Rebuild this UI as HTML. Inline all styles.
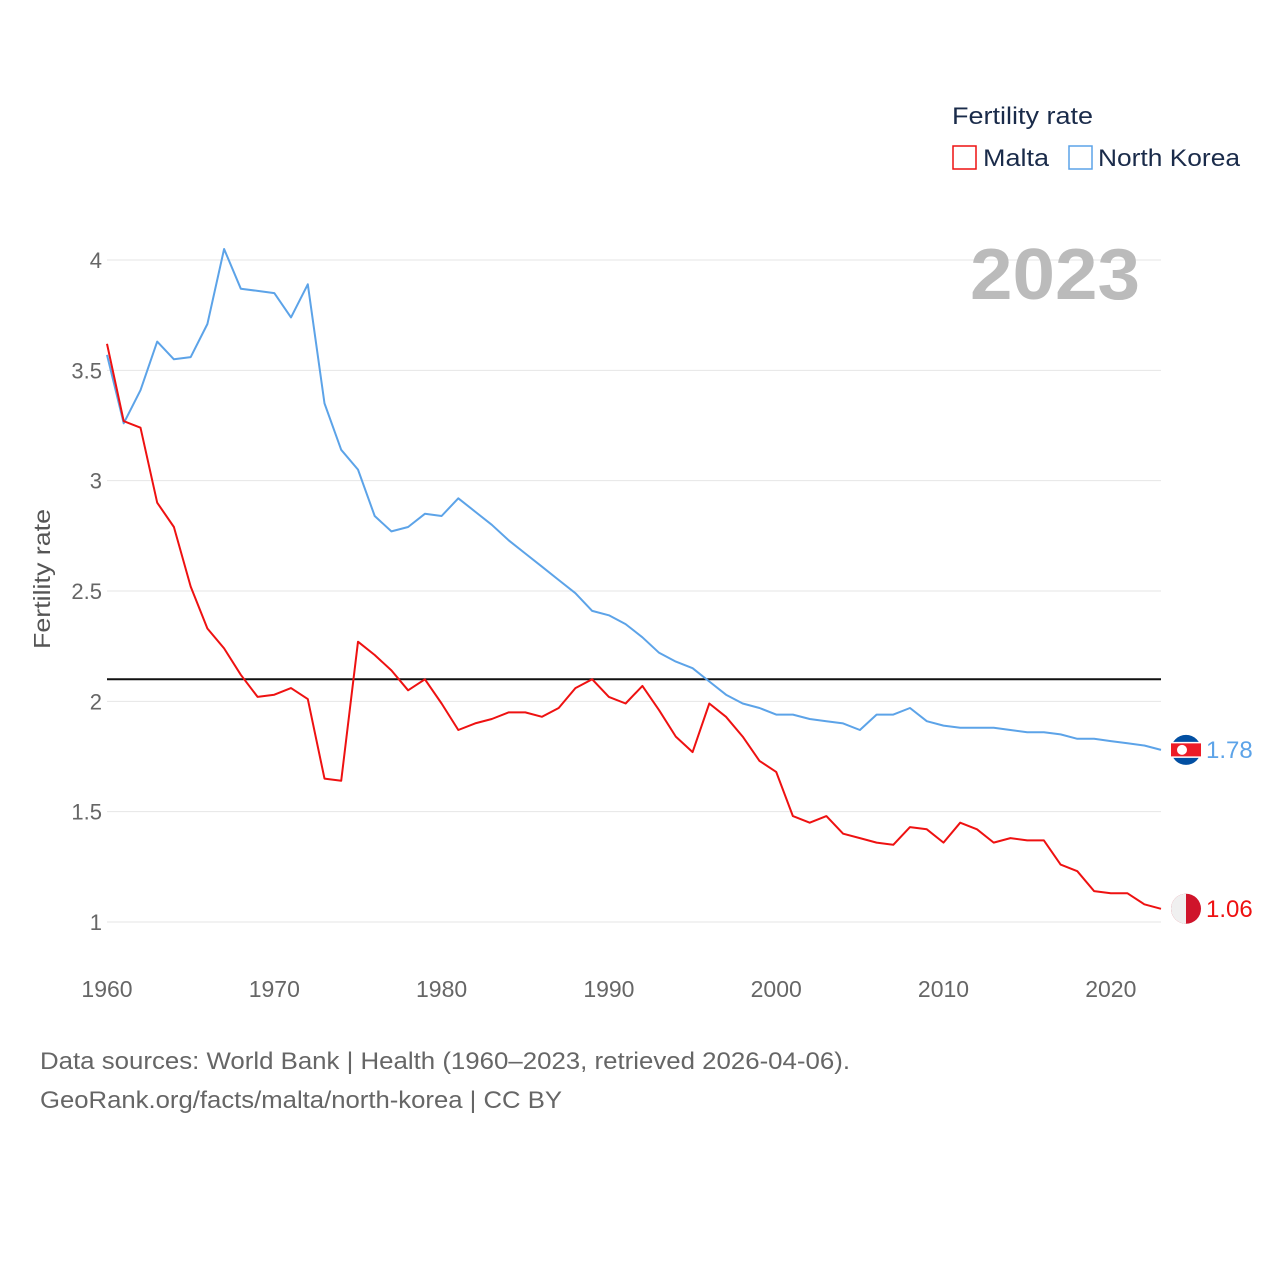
<!DOCTYPE html>
<html><head><meta charset="utf-8">
<style>
body{margin:0;background:#fff;font-family:"Liberation Sans",sans-serif;}
svg text{font-family:"Liberation Sans",sans-serif;}
</style></head>
<body>
<svg id="chart" width="1280" height="1280" viewBox="0 0 1280 1280" xmlns="http://www.w3.org/2000/svg">
<rect width="1280" height="1280" fill="#fff"/>
<g id="grid"></g>
<g id="yticks"></g>
<g id="xticks"></g>
<text transform="translate(50,579) rotate(-90)" text-anchor="middle" font-size="23" fill="#555" textLength="140" lengthAdjust="spacingAndGlyphs">Fertility rate</text>
<text x="1140" y="299" text-anchor="end" font-size="72" font-weight="bold" fill="#bbb" textLength="170" lengthAdjust="spacingAndGlyphs">2023</text>
<g>
<text x="952" y="124" font-size="24" fill="#1a2b4a" textLength="141" lengthAdjust="spacingAndGlyphs">Fertility rate</text>
<rect x="953" y="146" width="23" height="23" fill="none" stroke="#ee1111" stroke-width="1.5"/>
<text x="983" y="166" font-size="24" fill="#1a2b4a" textLength="66" lengthAdjust="spacingAndGlyphs">Malta</text>
<rect x="1069" y="146" width="23" height="23" fill="none" stroke="#5ca3e8" stroke-width="1.5"/>
<text x="1098" y="166" font-size="24" fill="#1a2b4a" textLength="142" lengthAdjust="spacingAndGlyphs">North Korea</text>
</g>
<g id="series"></g>
<text x="40" y="1069" font-size="24" fill="#666" textLength="810" lengthAdjust="spacingAndGlyphs">Data sources: World Bank | Health (1960–2023, retrieved 2026-04-06).</text>
<text x="40" y="1108" font-size="24" fill="#666" textLength="522" lengthAdjust="spacingAndGlyphs">GeoRank.org/facts/malta/north-korea | CC BY</text>
</svg>
<script>
const years = [];
for (let y = 1960; y <= 2023; y++) years.push(y);
const maltaValues = [3.62,3.27,3.24,2.90,2.79,2.52,2.33,2.24,2.12,2.02,2.03,2.06,2.01,1.65,1.64,2.27,2.21,2.14,2.05,2.10,1.99,1.87,1.90,1.92,1.95,1.95,1.93,1.97,2.06,2.10,2.02,1.99,2.07,1.96,1.84,1.77,1.99,1.93,1.84,1.73,1.68,1.48,1.45,1.48,1.40,1.38,1.36,1.35,1.43,1.42,1.36,1.45,1.42,1.36,1.38,1.37,1.37,1.26,1.23,1.14,1.13,1.13,1.08,1.06];
const nkValues = [3.57,3.26,3.41,3.63,3.55,3.56,3.71,4.05,3.87,3.86,3.85,3.74,3.89,3.35,3.14,3.05,2.84,2.77,2.79,2.85,2.84,2.92,2.86,2.80,2.73,2.67,2.61,2.55,2.49,2.41,2.39,2.35,2.29,2.22,2.18,2.15,2.09,2.03,1.99,1.97,1.94,1.94,1.92,1.91,1.90,1.87,1.94,1.94,1.97,1.91,1.89,1.88,1.88,1.88,1.87,1.86,1.86,1.85,1.83,1.83,1.82,1.81,1.80,1.78];
const yTickValues = [1,1.5,2,2.5,3,3.5,4];
const xTickValues = [1960,1970,1980,1990,2000,2010,2020];
const referenceValue = 2.1;

const NS = "http://www.w3.org/2000/svg";
const X0 = 107, X1 = 1161;
const xs = yr => X0 + (yr - 1960) * (X1 - X0) / 63;
const ys = v => 922 - (v - 1) * 220.67;
function mk(tag, attrs, parent) {
  const e = document.createElementNS(NS, tag);
  for (const k in attrs) e.setAttribute(k, attrs[k]);
  parent.appendChild(e);
  return e;
}
const grid = document.getElementById('grid');
const yt = document.getElementById('yticks');
yTickValues.forEach(v => {
  const l = mk('line', {x1: X0, x2: X1, y1: ys(v), y2: ys(v), stroke: '#e6e6e6', 'stroke-width': 1}, grid);
  
  
  const t = mk('text', {x: 102, y: ys(v) + 8, 'text-anchor': 'end', 'font-size': 22, fill: '#666'}, yt);
  t.textContent = String(v);
  
  
});
const xt = document.getElementById('xticks');
xTickValues.forEach(v => {
  const t = mk('text', {x: xs(v), y: 997, 'text-anchor': 'middle', 'font-size': 23, fill: '#666'}, xt);
  t.textContent = String(v);
  
  
});
const s = document.getElementById('series');
const ref = mk('line', {x1: X0, x2: X1, y1: ys(referenceValue), y2: ys(referenceValue), stroke: '#111', 'stroke-width': 2}, s);


function line(vals, color, name) {
  const d = vals.map((v, i) => (i ? 'L' : 'M') + xs(years[i]).toFixed(1) + ',' + ys(v).toFixed(1)).join(' ');
  const p = mk('path', {d: d, fill: 'none', stroke: color, 'stroke-width': 2, 'stroke-linejoin': 'round'}, s);
  
  
}
line(nkValues, '#5ca3e8', 'north-korea-line');
line(maltaValues, '#ee1111', 'malta-line');
function endLabel(vals, color, name, flag) {
  const v = vals[vals.length - 1];
  const y = ys(v);
  const g = mk('g', {}, s);
  
  
  const cx = 1186;
  if (flag === 'nk') {
    mk('circle', {cx: cx, cy: y, r: 15, fill: '#024fa2'}, g);
    mk('rect', {x: cx - 15, y: y - 8, width: 30, height: 16, fill: '#fff'}, g);
    mk('rect', {x: cx - 15, y: y - 6.5, width: 30, height: 13, fill: '#ed1c27'}, g);
    mk('circle', {cx: cx - 4, cy: y, r: 5, fill: '#fff'}, g);
  } else {
    mk('circle', {cx: cx, cy: y, r: 15, fill: '#cf142b'}, g);
    mk('path', {d: `M${cx},${y - 15} A15,15 0 0,0 ${cx},${y + 15} Z`, fill: '#f0f0f0'}, g);
  }
  const t = mk('text', {x: 1206, y: y + 8, 'font-size': 24, fill: color}, s);
  t.textContent = v.toFixed(2);
  
  
}
endLabel(nkValues, '#5ca3e8', 'north-korea', 'nk');
endLabel(maltaValues, '#ee1111', 'malta', 'mt');
</script>
</body></html>
